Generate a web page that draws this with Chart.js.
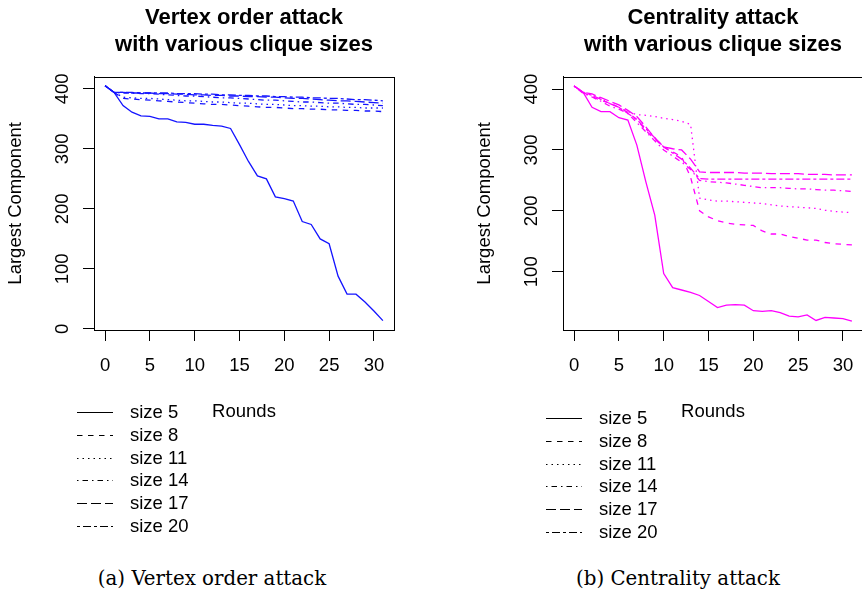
<!DOCTYPE html>
<html>
<head>
<meta charset="utf-8">
<script src="https://cdn.jsdelivr.net/npm/chart.js@4.4.1/dist/chart.umd.min.js"></script>
<style>
  html, body { margin: 0; padding: 0; background: #fff; overflow: hidden; }
  body { width: 862px; height: 596px; position: relative; }
  .panel { position: absolute; top: 0; }
  .caption { position: absolute; top: 567px; font-family: 'DejaVu Serif', serif; font-size: 19.8px; color: #000;
             transform: translateX(-50%); white-space: nowrap; }
</style>
</head>
<body>
<canvas id="vertexChart" class="panel" style="left:1px" width="486" height="545"></canvas>
<canvas id="centralityChart" class="panel" style="left:470px" width="486" height="545"></canvas>
<div class="caption" style="left:212px;">(a) Vertex order attack</div>
<div class="caption" style="left:678px;">(b) Centrality attack</div>

<script>
// rounds and ticks
const rounds = [0,1,2,3,4,5,6,7,8,9,10,11,12,13,14,15,16,17,18,19,20,21,22,23,24,25,26,27,28,29,30,31];
const xTicks = [0,5,10,15,20,25,30];
const vertexYTicks = [0,100,200,300,400];
const centralityYTicks = [100,200,300,400];
const sizeLabels = ['size 5','size 8','size 11','size 14','size 17','size 20'];

// vertex order attack (largest component per round)
const vertexSize5  = [405,394,372,361,355,354,350,350,345,344,341,341,339,338,334,307,279,255,250,220,217,213,179,174,150,142,88,58,58,45,30,14];
const vertexSize8  = [405,394,384,383,382,381,380,379,378,377,376,375,374,374,373,372,371,370,369,369,368,367,367,366,366,365,365,364,364,363,363,362];
const vertexSize11 = [405,394,386,385,384,384,383,382,381,380,380,379,378,378,377,376,376,375,374,374,373,372,372,371,371,370,370,369,369,368,368,368];
const vertexSize14 = [405,394,393,393,392,392,391,390,389,388,388,387,386,385,385,384,383,382,381,381,380,379,378,378,377,376,376,375,374,374,373,372];
const vertexSize17 = [405,394,394,393,393,393,392,392,391,391,390,390,389,389,388,388,387,387,386,386,385,384,384,383,382,381,380,380,379,378,377,376];
const vertexSize20 = [405,394,394,394,393,393,393,393,392,392,392,391,391,390,390,389,389,388,388,387,387,386,386,385,385,384,384,383,382,382,381,380];

// centrality attack
const centSize5  = [405,395,370,363,363,353,349,308,248,193,97,74,70,66,61,51,41,45,46,45,36,35,36,33,27,26,29,20,25,24,23,19];
const centSize8  = [405,394,388,381,377,370,362,350,332,318,305,297,289,255,200,190,184,180,178,177,176,167,162,162,158,155,152,152,148,146,145,144];
const centSize11 = [405,395,390,385,376,370,363,358,357,355,352,350,347,342,221,218,216,216,215,214,213,212,210,208,207,206,205,204,201,199,198,197];
const centSize14 = [405,393,387,380,372,367,360,345,330,315,300,290,280,268,250,248,247,246,244,242,240,238,238,238,237,236,236,235,234,234,233,232];
const centSize17 = [405,395,392,386,380,374,365,355,338,320,305,302,300,285,264,263,263,263,263,262,262,262,261,261,261,261,260,260,260,259,259,259];
const centSize20 = [405,394,390,383,376,370,360,350,335,320,305,295,285,270,253,252,252,252,252,252,252,252,252,252,252,252,252,252,252,252,252,252];

// R line types 1..6
const lineDashes = [[], [5.5,5.5], [1.5,4], [1.5,4,5.5,4], [10,4], [3,3,8,3]];

Chart.defaults.font.family = '"Liberation Sans", Arial, sans-serif';
Chart.defaults.color = '#000';

// box round the plot region
const frameBox = {
    id: 'frameBox',
    afterDraw(chart) {
        const { ctx, chartArea: a } = chart;
        ctx.save();
        ctx.strokeStyle = '#000';
        ctx.lineWidth = 1;
        ctx.strokeRect(Math.round(a.left) + 0.5, Math.round(a.top) + 0.5,
                       Math.round(a.right - a.left), Math.round(a.bottom - a.top));
        ctx.restore();
    }
};

// R-style legend: black line samples under the axis
const lineKey = {
    id: 'lineKey',
    afterDraw(chart, args, opts) {
        const ctx = chart.ctx;
        ctx.save();
        ctx.font = '18.5px "Liberation Sans", Arial, sans-serif';
        ctx.textBaseline = 'middle';
        ctx.fillStyle = '#000';
        chart.data.datasets.forEach((ds, i) => {
            const y = Math.round(opts.top + i * opts.rowGap) + 0.5;
            ctx.strokeStyle = '#000';
            ctx.lineWidth = 1;
            ctx.setLineDash(ds.borderDash || []);
            ctx.beginPath();
            ctx.moveTo(opts.lineX0, y);
            ctx.lineTo(opts.lineX1, y);
            ctx.stroke();
            ctx.setLineDash([]);
            ctx.fillText(ds.label, opts.textX, y);
        });
        ctx.restore();
    }
};

function makeChart(id, titleLines, series, color, yTicks, yMin, yMax, keyTop) {
    const ctx = document.getElementById(id).getContext('2d');
    return new Chart(ctx, {
        type: 'line',
        data: {
            datasets: series.map((vals, i) => ({
                label: sizeLabels[i],
                data: vals.map((v, j) => ({ x: rounds[j], y: v })),
                borderColor: color,
                borderWidth: 1.3,
                borderDash: lineDashes[i],
                pointRadius: 0,
                tension: 0,
                fill: false
            }))
        },
        options: {
            responsive: false,
            animation: false,
            layout: { padding: { top: 0, left: 0, right: 0, bottom: 115 } },
            plugins: {
                legend: { display: false },
                tooltip: { enabled: false },
                title: {
                    display: true,
                    text: titleLines,
                    font: { size: 22, weight: 'bold' },
                    color: '#000',
                    padding: { top: 5, bottom: 19 }
                },
                lineKey: { top: keyTop, rowGap: 22.7, lineX0: 76, lineX1: 112, textX: 129 }
            },
            scales: {
                x: {
                    type: 'linear',
                    min: -1.24,
                    max: 32.24,
                    afterBuildTicks: s => { s.ticks = xTicks.map(v => ({ value: v })); },
                    afterFit: s => { s.height = 100; },
                    grid: { drawOnChartArea: false, drawTicks: true, tickLength: 11, color: '#000' },
                    border: { display: true, color: '#000' },
                    ticks: { font: { size: 18.5 }, color: '#000', padding: 14, maxRotation: 0, autoSkip: false },
                    title: { display: true, text: 'Rounds', font: { size: 18.5 }, padding: { top: 0, bottom: 7 } }
                },
                y: {
                    min: yMin,
                    max: yMax,
                    afterBuildTicks: s => { s.ticks = yTicks.map(v => ({ value: v })); },
                    afterFit: s => { s.width = 93; },
                    grid: { drawOnChartArea: false, drawTicks: true, tickLength: 11, color: '#000' },
                    border: { display: true, color: '#000' },
                    ticks: { font: { size: 18.5 }, color: '#000', minRotation: 90, maxRotation: 90,
                             crossAlign: 'center', padding: 5 },
                    title: { display: true, text: 'Largest Component', font: { size: 18.5 }, padding: { top: 4, bottom: 0 } }
                },
                // empty right margin, same width as the left axis, so the title centres over the plot
                yPad: {
                    position: 'right',
                    afterFit: s => { s.width = 93; },
                    ticks: { display: false },
                    grid: { display: false },
                    border: { display: false }
                }
            }
        },
        plugins: [frameBox, lineKey]
    });
}

makeChart('vertexChart', ['Vertex order attack', 'with various clique sizes'],
    [vertexSize5, vertexSize8, vertexSize11, vertexSize14, vertexSize17, vertexSize20],
    'rgb(20,20,255)', vertexYTicks, -1.7, 420, 412.3);

makeChart('centralityChart', ['Centrality attack', 'with various clique sizes'],
    [centSize5, centSize8, centSize11, centSize14, centSize17, centSize20],
    'rgb(255,0,255)', centralityYTicks, 4.3, 420.2, 418.3);
</script>
</body>
</html>
